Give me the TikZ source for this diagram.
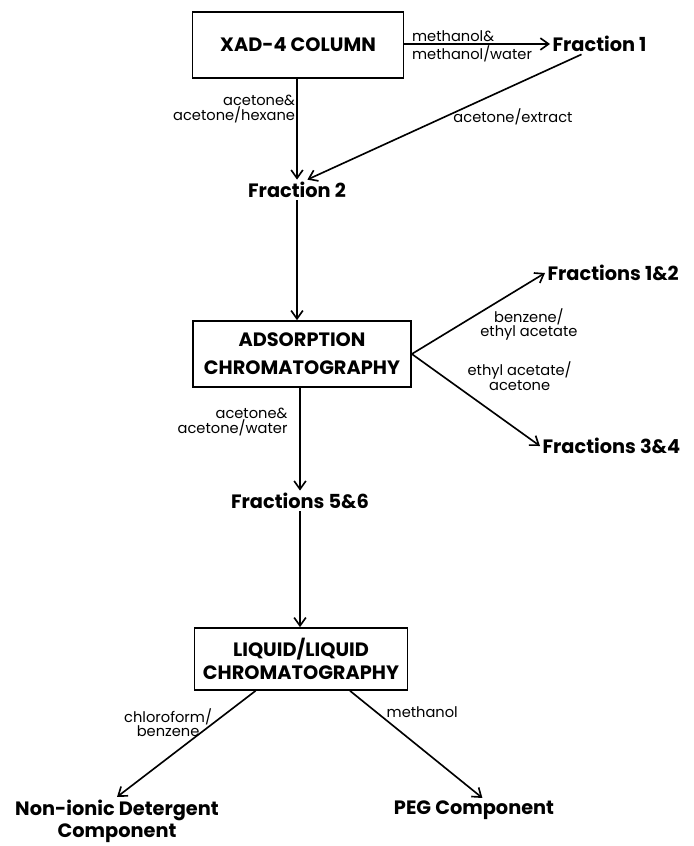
\documentclass[tikz,border=0pt]{standalone}
\usepackage{fontspec}
\setmainfont{Poppins}
\usetikzlibrary{positioning,arrows.meta}

\begin{document}
\begin{tikzpicture}[x=0.03cm,y=-0.03cm,
  box/.style={draw,line width=1.4pt,align=center,inner sep=0pt,font=\bfseries\fontsize{16.5}{20}\selectfont},
  frac/.style={font=\bfseries\fontsize{16.5}{19}\selectfont,inner sep=2pt,align=center},
  lbl/.style={font=\fontsize{12.5}{12.5}\selectfont,align=center,inner sep=1pt},
  arr/.style={-{Straight Barb[length=7pt,width=10pt,line width=1.4pt]},line width=1.4pt}
]
\useasboundingbox (0,0) rectangle (693,846);

\node[box,minimum width=6.33cm,minimum height=1.98cm] (xad) at (298,45) {XAD-4 COLUMN};
\node[frac,anchor=west] (f1) at (550,44) {Fraction 1};
\node[frac] (f2) at (297,190) {Fraction 2};
\node[box,minimum width=6.54cm,minimum height=1.98cm,font=\bfseries\fontsize{16.5}{24}\selectfont] (ads) at (302,354) {ADSORPTION\\CHROMATOGRAPHY};
\node[frac,anchor=west] (f12) at (545,273) {Fractions 1\&2};
\node[frac,anchor=west] (f34) at (540,446) {Fractions 3\&4};
\node[frac] (f56) at (300,501) {Fractions 5\&6};
\node[box,minimum width=6.39cm,minimum height=1.86cm] (liq) at (301,659) {LIQUID/LIQUID\\CHROMATOGRAPHY};
\node[frac] (nid) at (117,821) {Non-ionic Detergent\\Component};
\node[frac] (peg) at (474,810) {PEG Component};

\draw[arr] (xad.east |- f1.west) -- node[lbl,anchor=south west,pos=0.04]{methanol\&} node[lbl,anchor=north west,pos=0.04]{methanol/water} (f1.west);
\draw[arr] (xad.south -| f2.north) -- node[lbl,anchor=east,pos=0.3,font=\fontsize{12.5}{10}\selectfont,align=right]{acetone\&\\acetone/hexane} (f2.north);
\draw[arr] (f1.210) -- node[lbl,anchor=west,pos=0.5,xshift=6pt]{acetone/extract} (f2.45);
\draw[arr] (f2.south) -- (f2.south |- ads.north);
\draw[arr] (ads.east) -- node[lbl,anchor=north west,pos=0.5,yshift=6pt]{benzene/\\ethyl acetate} (f12.west);
\draw[arr] (ads.east) -- node[lbl,anchor=south west,pos=0.42]{ethyl acetate/\\acetone} (f34.west);
\draw[arr] (ads.south -| f56.north) -- node[lbl,anchor=east,pos=0.33,xshift=-9pt,align=right]{acetone\&\\acetone/water} (f56.north);
\draw[arr] (f56.south) -- (f56.south |- liq.north);
\draw[arr] (liq.-145) -- node[lbl,anchor=east,pos=0.3]{chloroform/\\benzene} (nid.north);
\draw[arr] (liq.-33) -- node[lbl,anchor=west,pos=0.2,xshift=7pt]{methanol} (peg.55);
\end{tikzpicture}
\end{document}
